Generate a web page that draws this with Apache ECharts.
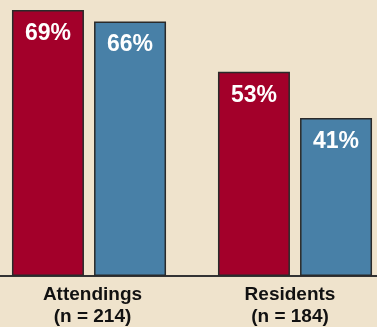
<!DOCTYPE html>
<html><head><meta charset="utf-8">
<script src="https://cdn.jsdelivr.net/npm/echarts@6/dist/echarts.min.js"></script>
<style>html,body{margin:0;padding:0;background:#EFE3CC}#c{width:377px;height:327px}</style>
</head><body><div id="c"></div>
<script>
const categories = ['Attendings\n(n = 214)', 'Residents\n(n = 184)'];
const redValues = [69, 53];
const blueValues = [66, 41];

const chart = echarts.init(document.getElementById('c'), null, {renderer: 'canvas'});
const lbl = {show: true, position: 'insideTop', distance: 12, color: '#fff',
  fontFamily: 'Liberation Sans, Arial, sans-serif', fontWeight: 'bold', fontSize: 23,
  formatter: p => p.value + '%'};
const axFont = {color: '#111', fontFamily: 'Liberation Sans Narrow, Arial Narrow, sans-serif',
  fontWeight: 'bold', fontSize: 19, lineHeight: 22};
chart.setOption({
  backgroundColor: '#EFE3CC',
  animation: false,
  grid: {left: -14, right: -21, top: 10, bottom: 51, outerBoundsMode: 'none', containLabel: false},
  xAxis: {type: 'category', data: categories,
    axisLine: {lineStyle: {color: '#333', width: 2}},
    axisTick: {show: false},
    axisLabel: Object.assign({}, axFont, {margin: 8,
      formatter: (v, i) => v.split('\n').map(s => '{' + (i === 0 ? 'a' : 'b') + '|' + s + '}').join('\n'),
      rich: {a: Object.assign({}, axFont, {padding: [0, 0, 0, 7]}),
             b: Object.assign({}, axFont, {padding: [0, 10, 0, 0]})}})},
  yAxis: {type: 'value', min: 0, max: 69, show: false, splitLine: {show: false}},
  series: [
    {type: 'bar', data: redValues, barWidth: 72, barGap: '14%',
     itemStyle: {color: '#A3002A', borderColor: '#2a2a2a', borderWidth: 1.5}, label: lbl},
    {type: 'bar', data: blueValues, barWidth: 72,
     itemStyle: {color: '#4880A7', borderColor: '#2a2a2a', borderWidth: 1.5}, label: lbl}
  ]
});
</script></body></html>
